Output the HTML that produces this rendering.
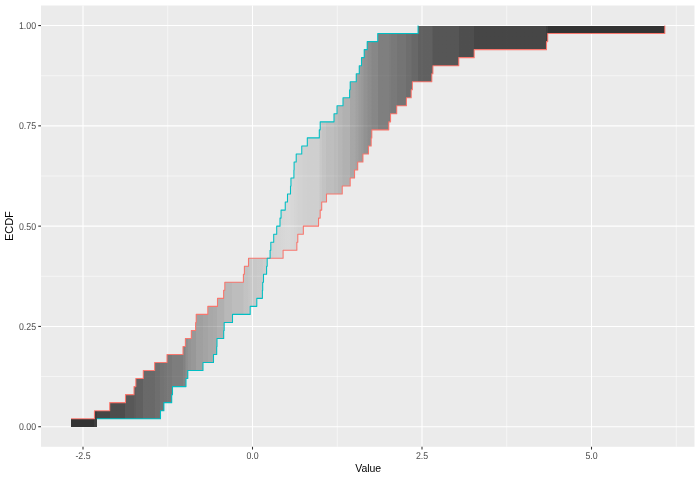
<!DOCTYPE html>
<html><head><meta charset="utf-8"><title>ECDF</title>
<style>html,body{margin:0;padding:0;background:#fff}svg{display:block}text{font-family:"Liberation Sans",sans-serif}</style>
</head><body>
<svg width="700" height="480" viewBox="0 0 700 480">
<defs><linearGradient id="g" gradientUnits="userSpaceOnUse" x1="71" y1="0" x2="665" y2="0"><stop offset="0.00000" stop-color="#333" stop-opacity="1.000"/><stop offset="0.03872" stop-color="#333" stop-opacity="1.000"/><stop offset="0.03872" stop-color="#333" stop-opacity="0.946"/><stop offset="0.04377" stop-color="#333" stop-opacity="0.946"/><stop offset="0.04377" stop-color="#333" stop-opacity="0.897"/><stop offset="0.06566" stop-color="#333" stop-opacity="0.897"/><stop offset="0.06566" stop-color="#333" stop-opacity="0.859"/><stop offset="0.09091" stop-color="#333" stop-opacity="0.859"/><stop offset="0.09091" stop-color="#333" stop-opacity="0.799"/><stop offset="0.10606" stop-color="#333" stop-opacity="0.799"/><stop offset="0.10606" stop-color="#333" stop-opacity="0.777"/><stop offset="0.10943" stop-color="#333" stop-opacity="0.777"/><stop offset="0.10943" stop-color="#333" stop-opacity="0.755"/><stop offset="0.12121" stop-color="#333" stop-opacity="0.755"/><stop offset="0.12121" stop-color="#333" stop-opacity="0.707"/><stop offset="0.14141" stop-color="#333" stop-opacity="0.707"/><stop offset="0.14141" stop-color="#333" stop-opacity="0.679"/><stop offset="0.14983" stop-color="#333" stop-opacity="0.679"/><stop offset="0.14983" stop-color="#333" stop-opacity="0.652"/><stop offset="0.15657" stop-color="#333" stop-opacity="0.652"/><stop offset="0.15657" stop-color="#333" stop-opacity="0.639"/><stop offset="0.16162" stop-color="#333" stop-opacity="0.639"/><stop offset="0.16162" stop-color="#333" stop-opacity="0.625"/><stop offset="0.17003" stop-color="#333" stop-opacity="0.625"/><stop offset="0.17003" stop-color="#333" stop-opacity="0.598"/><stop offset="0.18855" stop-color="#333" stop-opacity="0.598"/><stop offset="0.18855" stop-color="#333" stop-opacity="0.567"/><stop offset="0.19192" stop-color="#333" stop-opacity="0.567"/><stop offset="0.19192" stop-color="#333" stop-opacity="0.535"/><stop offset="0.19360" stop-color="#333" stop-opacity="0.535"/><stop offset="0.19360" stop-color="#333" stop-opacity="0.504"/><stop offset="0.19697" stop-color="#333" stop-opacity="0.504"/><stop offset="0.19697" stop-color="#333" stop-opacity="0.473"/><stop offset="0.20202" stop-color="#333" stop-opacity="0.473"/><stop offset="0.20202" stop-color="#333" stop-opacity="0.451"/><stop offset="0.21044" stop-color="#333" stop-opacity="0.451"/><stop offset="0.21044" stop-color="#333" stop-opacity="0.408"/><stop offset="0.22222" stop-color="#333" stop-opacity="0.408"/><stop offset="0.22222" stop-color="#333" stop-opacity="0.386"/><stop offset="0.23064" stop-color="#333" stop-opacity="0.386"/><stop offset="0.23064" stop-color="#333" stop-opacity="0.364"/><stop offset="0.23906" stop-color="#333" stop-opacity="0.364"/><stop offset="0.23906" stop-color="#333" stop-opacity="0.353"/><stop offset="0.24579" stop-color="#333" stop-opacity="0.353"/><stop offset="0.24579" stop-color="#333" stop-opacity="0.321"/><stop offset="0.25758" stop-color="#333" stop-opacity="0.321"/><stop offset="0.25758" stop-color="#333" stop-opacity="0.288"/><stop offset="0.25926" stop-color="#333" stop-opacity="0.288"/><stop offset="0.25926" stop-color="#333" stop-opacity="0.277"/><stop offset="0.27104" stop-color="#333" stop-opacity="0.277"/><stop offset="0.27104" stop-color="#333" stop-opacity="0.250"/><stop offset="0.28956" stop-color="#333" stop-opacity="0.250"/><stop offset="0.28956" stop-color="#333" stop-opacity="0.235"/><stop offset="0.29125" stop-color="#333" stop-opacity="0.235"/><stop offset="0.29125" stop-color="#333" stop-opacity="0.220"/><stop offset="0.29798" stop-color="#333" stop-opacity="0.220"/><stop offset="0.29798" stop-color="#333" stop-opacity="0.205"/><stop offset="0.30135" stop-color="#333" stop-opacity="0.205"/><stop offset="0.30135" stop-color="#333" stop-opacity="0.190"/><stop offset="0.31313" stop-color="#333" stop-opacity="0.190"/><stop offset="0.31313" stop-color="#333" stop-opacity="0.183"/><stop offset="0.32155" stop-color="#333" stop-opacity="0.183"/><stop offset="0.32155" stop-color="#333" stop-opacity="0.176"/><stop offset="0.32323" stop-color="#333" stop-opacity="0.176"/><stop offset="0.32323" stop-color="#333" stop-opacity="0.161"/><stop offset="0.32997" stop-color="#333" stop-opacity="0.161"/><stop offset="0.32997" stop-color="#333" stop-opacity="0.147"/><stop offset="0.33502" stop-color="#333" stop-opacity="0.147"/><stop offset="0.33502" stop-color="#333" stop-opacity="0.139"/><stop offset="0.33670" stop-color="#333" stop-opacity="0.139"/><stop offset="0.33670" stop-color="#333" stop-opacity="0.132"/><stop offset="0.34175" stop-color="#333" stop-opacity="0.132"/><stop offset="0.34175" stop-color="#333" stop-opacity="0.125"/><stop offset="0.34680" stop-color="#333" stop-opacity="0.125"/><stop offset="0.34680" stop-color="#333" stop-opacity="0.120"/><stop offset="0.35185" stop-color="#333" stop-opacity="0.120"/><stop offset="0.35185" stop-color="#333" stop-opacity="0.116"/><stop offset="0.35354" stop-color="#333" stop-opacity="0.116"/><stop offset="0.35354" stop-color="#333" stop-opacity="0.111"/><stop offset="0.35690" stop-color="#333" stop-opacity="0.111"/><stop offset="0.35690" stop-color="#333" stop-opacity="0.107"/><stop offset="0.36027" stop-color="#333" stop-opacity="0.107"/><stop offset="0.36027" stop-color="#333" stop-opacity="0.102"/><stop offset="0.36364" stop-color="#333" stop-opacity="0.102"/><stop offset="0.36364" stop-color="#333" stop-opacity="0.100"/><stop offset="0.36869" stop-color="#333" stop-opacity="0.100"/><stop offset="0.36869" stop-color="#333" stop-opacity="0.103"/><stop offset="0.37037" stop-color="#333" stop-opacity="0.103"/><stop offset="0.37037" stop-color="#333" stop-opacity="0.109"/><stop offset="0.37542" stop-color="#333" stop-opacity="0.109"/><stop offset="0.37542" stop-color="#333" stop-opacity="0.120"/><stop offset="0.37879" stop-color="#333" stop-opacity="0.120"/><stop offset="0.37879" stop-color="#333" stop-opacity="0.125"/><stop offset="0.38047" stop-color="#333" stop-opacity="0.125"/><stop offset="0.38047" stop-color="#333" stop-opacity="0.130"/><stop offset="0.38215" stop-color="#333" stop-opacity="0.130"/><stop offset="0.38215" stop-color="#333" stop-opacity="0.136"/><stop offset="0.38889" stop-color="#333" stop-opacity="0.136"/><stop offset="0.38889" stop-color="#333" stop-opacity="0.141"/><stop offset="0.39057" stop-color="#333" stop-opacity="0.141"/><stop offset="0.39057" stop-color="#333" stop-opacity="0.147"/><stop offset="0.39731" stop-color="#333" stop-opacity="0.147"/><stop offset="0.39731" stop-color="#333" stop-opacity="0.152"/><stop offset="0.41751" stop-color="#333" stop-opacity="0.152"/><stop offset="0.41751" stop-color="#333" stop-opacity="0.171"/><stop offset="0.41919" stop-color="#333" stop-opacity="0.171"/><stop offset="0.41919" stop-color="#333" stop-opacity="0.190"/><stop offset="0.42256" stop-color="#333" stop-opacity="0.190"/><stop offset="0.42256" stop-color="#333" stop-opacity="0.217"/><stop offset="0.42929" stop-color="#333" stop-opacity="0.217"/><stop offset="0.42929" stop-color="#333" stop-opacity="0.245"/><stop offset="0.44276" stop-color="#333" stop-opacity="0.245"/><stop offset="0.44276" stop-color="#333" stop-opacity="0.266"/><stop offset="0.44781" stop-color="#333" stop-opacity="0.266"/><stop offset="0.44781" stop-color="#333" stop-opacity="0.288"/><stop offset="0.45623" stop-color="#333" stop-opacity="0.288"/><stop offset="0.45623" stop-color="#333" stop-opacity="0.302"/><stop offset="0.45791" stop-color="#333" stop-opacity="0.302"/><stop offset="0.45791" stop-color="#333" stop-opacity="0.315"/><stop offset="0.46970" stop-color="#333" stop-opacity="0.315"/><stop offset="0.46970" stop-color="#333" stop-opacity="0.370"/><stop offset="0.47811" stop-color="#333" stop-opacity="0.370"/><stop offset="0.47811" stop-color="#333" stop-opacity="0.385"/><stop offset="0.47980" stop-color="#333" stop-opacity="0.385"/><stop offset="0.47980" stop-color="#333" stop-opacity="0.399"/><stop offset="0.48316" stop-color="#333" stop-opacity="0.399"/><stop offset="0.48316" stop-color="#333" stop-opacity="0.414"/><stop offset="0.48485" stop-color="#333" stop-opacity="0.414"/><stop offset="0.48485" stop-color="#333" stop-opacity="0.429"/><stop offset="0.48822" stop-color="#333" stop-opacity="0.429"/><stop offset="0.48822" stop-color="#333" stop-opacity="0.447"/><stop offset="0.49158" stop-color="#333" stop-opacity="0.447"/><stop offset="0.49158" stop-color="#333" stop-opacity="0.466"/><stop offset="0.49327" stop-color="#333" stop-opacity="0.466"/><stop offset="0.49327" stop-color="#333" stop-opacity="0.484"/><stop offset="0.49832" stop-color="#333" stop-opacity="0.484"/><stop offset="0.49832" stop-color="#333" stop-opacity="0.499"/><stop offset="0.50000" stop-color="#333" stop-opacity="0.499"/><stop offset="0.50000" stop-color="#333" stop-opacity="0.514"/><stop offset="0.50505" stop-color="#333" stop-opacity="0.514"/><stop offset="0.50505" stop-color="#333" stop-opacity="0.529"/><stop offset="0.50673" stop-color="#333" stop-opacity="0.529"/><stop offset="0.50673" stop-color="#333" stop-opacity="0.543"/><stop offset="0.51684" stop-color="#333" stop-opacity="0.543"/><stop offset="0.51684" stop-color="#333" stop-opacity="0.587"/><stop offset="0.53535" stop-color="#333" stop-opacity="0.587"/><stop offset="0.53535" stop-color="#333" stop-opacity="0.603"/><stop offset="0.53872" stop-color="#333" stop-opacity="0.603"/><stop offset="0.53872" stop-color="#333" stop-opacity="0.620"/><stop offset="0.54882" stop-color="#333" stop-opacity="0.620"/><stop offset="0.54882" stop-color="#333" stop-opacity="0.647"/><stop offset="0.56397" stop-color="#333" stop-opacity="0.647"/><stop offset="0.56397" stop-color="#333" stop-opacity="0.679"/><stop offset="0.57239" stop-color="#333" stop-opacity="0.679"/><stop offset="0.57239" stop-color="#333" stop-opacity="0.696"/><stop offset="0.57407" stop-color="#333" stop-opacity="0.696"/><stop offset="0.57407" stop-color="#333" stop-opacity="0.712"/><stop offset="0.58418" stop-color="#333" stop-opacity="0.712"/><stop offset="0.58418" stop-color="#333" stop-opacity="0.755"/><stop offset="0.60774" stop-color="#333" stop-opacity="0.755"/><stop offset="0.60774" stop-color="#333" stop-opacity="0.783"/><stop offset="0.60943" stop-color="#333" stop-opacity="0.783"/><stop offset="0.60943" stop-color="#333" stop-opacity="0.810"/><stop offset="0.65320" stop-color="#333" stop-opacity="0.810"/><stop offset="0.65320" stop-color="#333" stop-opacity="0.853"/><stop offset="0.67845" stop-color="#333" stop-opacity="0.853"/><stop offset="0.67845" stop-color="#333" stop-opacity="0.897"/><stop offset="0.79966" stop-color="#333" stop-opacity="0.897"/><stop offset="0.79966" stop-color="#333" stop-opacity="0.948"/><stop offset="0.80303" stop-color="#333" stop-opacity="0.948"/><stop offset="0.80303" stop-color="#333" stop-opacity="1.000"/><stop offset="1.00000" stop-color="#333" stop-opacity="1.000"/></linearGradient></defs>
<rect width="700" height="480" fill="#fff"/>
<rect x="41.0" y="5.5" width="653.50" height="441.30" fill="#EBEBEB"/>
<g><line x1="41.0" x2="694.5" y1="376.58" y2="376.58" stroke="#fff" stroke-width="0.53"/><line x1="41.0" x2="694.5" y1="276.29" y2="276.29" stroke="#fff" stroke-width="0.53"/><line x1="41.0" x2="694.5" y1="176.00" y2="176.00" stroke="#fff" stroke-width="0.53"/><line x1="41.0" x2="694.5" y1="75.70" y2="75.70" stroke="#fff" stroke-width="0.53"/><line y1="5.5" y2="446.8" x1="167.75" x2="167.75" stroke="#fff" stroke-width="0.53"/><line y1="5.5" y2="446.8" x1="337.25" x2="337.25" stroke="#fff" stroke-width="0.53"/><line y1="5.5" y2="446.8" x1="506.75" x2="506.75" stroke="#fff" stroke-width="0.53"/><line y1="5.5" y2="446.8" x1="676.25" x2="676.25" stroke="#fff" stroke-width="0.53"/><line x1="41.0" x2="694.5" y1="426.72" y2="426.72" stroke="#fff" stroke-width="1.07"/><line x1="41.0" x2="694.5" y1="326.43" y2="326.43" stroke="#fff" stroke-width="1.07"/><line x1="41.0" x2="694.5" y1="226.14" y2="226.14" stroke="#fff" stroke-width="1.07"/><line x1="41.0" x2="694.5" y1="125.85" y2="125.85" stroke="#fff" stroke-width="1.07"/><line x1="41.0" x2="694.5" y1="25.56" y2="25.56" stroke="#fff" stroke-width="1.07"/><line y1="5.5" y2="446.8" x1="83.00" x2="83.00" stroke="#fff" stroke-width="1.07"/><line y1="5.5" y2="446.8" x1="252.50" x2="252.50" stroke="#fff" stroke-width="1.07"/><line y1="5.5" y2="446.8" x1="422.00" x2="422.00" stroke="#fff" stroke-width="1.07"/><line y1="5.5" y2="446.8" x1="591.50" x2="591.50" stroke="#fff" stroke-width="1.07"/></g>
<path d="M71,419 L94,419 L94,411 L97,411 L110,411 L110,403 L125,403 L125,395 L134,395 L134,387 L136,387 L136,379 L143,379 L143,371 L155,371 L155,363 L160,363 L164,363 L167,363 L167,355 L172,355 L183,355 L183,346 L185,346 L185,338 L186,338 L188,338 L191,338 L191,330 L196,330 L196,322 L196,314 L203,314 L208,314 L208,306 L213,306 L217,306 L217,298 L224,298 L224,290 L225,290 L225,282 L232,282 L243,282 L243,274 L244,274 L244,266 L248,266 L248,258 L250,258 L257,258 L262,258 L263,258 L267,258 L270,258 L270,250 L271,250 L271,242 L274,242 L274,234 L277,234 L277,226 L280,226 L280,218 L281,218 L281,210 L283,210 L285,210 L285,202 L287,202 L287,194 L290,194 L290,186 L291,186 L291,178 L294,178 L294,170 L294,162 L296,162 L296,154 L297,154 L298,154 L302,154 L302,146 L303,146 L307,146 L307,138 L319,138 L319,130 L320,130 L320,122 L322,122 L326,122 L334,122 L334,114 L337,114 L337,106 L342,106 L343,106 L343,98 L350,98 L350,90 L350,82 L355,82 L356,82 L356,74 L358,74 L359,74 L359,66 L361,66 L361,58 L363,58 L364,58 L364,50 L367,50 L367,42 L368,42 L371,42 L372,42 L378,42 L378,34 L389,34 L391,34 L397,34 L406,34 L411,34 L412,34 L418,34 L418,26 L432,26 L433,26 L459,26 L474,26 L546,26 L548,26 L665,26 L665,34 L548,34 L548,42 L546,42 L546,50 L474,50 L474,58 L459,58 L459,66 L433,66 L433,74 L432,74 L432,82 L418,82 L412,82 L412,90 L411,90 L411,98 L406,98 L406,106 L397,106 L397,114 L391,114 L391,122 L389,122 L389,130 L378,130 L372,130 L372,138 L371,138 L371,146 L368,146 L368,154 L367,154 L364,154 L363,154 L363,162 L361,162 L359,162 L358,162 L358,170 L356,170 L355,170 L355,178 L350,178 L350,186 L343,186 L342,186 L342,194 L337,194 L334,194 L326,194 L326,202 L322,202 L322,210 L320,210 L320,218 L319,218 L319,226 L307,226 L303,226 L303,234 L302,234 L298,234 L298,242 L297,242 L297,250 L296,250 L294,250 L291,250 L290,250 L287,250 L285,250 L283,250 L283,258 L281,258 L280,258 L277,258 L274,258 L271,258 L270,258 L267,258 L267,266 L267,274 L263,274 L263,282 L263,290 L262,290 L262,298 L257,298 L257,306 L250,306 L250,314 L248,314 L244,314 L243,314 L232,314 L232,322 L225,322 L224,322 L224,330 L224,338 L217,338 L217,346 L217,355 L213,355 L213,363 L208,363 L203,363 L203,371 L196,371 L191,371 L188,371 L188,379 L186,379 L186,387 L185,387 L183,387 L172,387 L172,395 L172,403 L167,403 L164,403 L164,411 L160,411 L160,419 L155,419 L143,419 L136,419 L134,419 L125,419 L110,419 L97,419 L97,427 L94,427 L71,427Z" fill="url(#g)"/>
<path d="M71.00,418.70H94.45V410.67H109.70V402.65H125.50V394.63H134.00V386.60H135.80V378.58H143.30V370.56H154.60V362.53H167.00V354.51H183.00V346.49H185.40V338.46H191.30V330.44H195.60V322.42H196.20V314.40H207.80V306.37H217.50V298.35H223.60V290.33H224.80V282.30H243.40V274.28H244.40V266.26H248.50V258.23H283.10V250.21H296.85V242.19H297.80V234.16H303.35V226.14H318.55V218.12H320.20V210.09H321.70V202.07H326.50V194.05H342.25V186.02H350.20V178.00H354.55V169.98H357.70V161.95H362.95V153.93H368.50V145.91H371.20V137.88H371.80V129.86H388.75V121.84H390.55V113.82H396.70V105.79H406.45V97.77H411.25V89.75H412.40V81.72H431.80V73.70H432.90V65.68H458.75V57.65H474.20V49.63H546.50V41.61H547.70V33.58H664.80V25.56" fill="none" stroke="#F8766D" stroke-width="1.07" stroke-linejoin="round"/>
<path d="M96.75,418.70H160.50V410.67H163.90V402.65H171.70V394.63H172.50V386.60H186.00V378.58H187.80V370.56H203.00V362.53H213.50V354.51H216.70V346.49H217.00V338.46H223.70V330.44H224.20V322.42H232.50V314.40H250.20V306.37H256.80V298.35H262.40V290.33H262.70V282.30H263.50V274.28H266.60V266.26H267.20V258.23H270.10V250.21H270.80V242.19H273.70V234.16H276.70V226.14H280.00V218.12H281.05V210.09H285.25V202.07H287.50V194.05H290.50V186.02H290.95V178.00H293.90V169.98H294.10V161.95H296.20V153.93H301.75V145.91H307.30V137.88H319.30V129.86H320.20V121.84H334.00V113.82H337.00V105.79H343.00V97.77H349.60V89.75H350.20V81.72H356.25V73.70H359.25V65.68H361.50V57.65H364.20V49.63H367.20V41.61H377.70V33.58H418.05V25.56" fill="none" stroke="#00BFC4" stroke-width="1.07" stroke-linejoin="round"/>
<g><line x1="38.25" x2="41.0" y1="426.72" y2="426.72" stroke="#333" stroke-width="1.07"/><line x1="38.25" x2="41.0" y1="326.43" y2="326.43" stroke="#333" stroke-width="1.07"/><line x1="38.25" x2="41.0" y1="226.14" y2="226.14" stroke="#333" stroke-width="1.07"/><line x1="38.25" x2="41.0" y1="125.85" y2="125.85" stroke="#333" stroke-width="1.07"/><line x1="38.25" x2="41.0" y1="25.56" y2="25.56" stroke="#333" stroke-width="1.07"/><line y1="446.8" y2="449.55" x1="83.00" x2="83.00" stroke="#333" stroke-width="1.07"/><line y1="446.8" y2="449.55" x1="252.50" x2="252.50" stroke="#333" stroke-width="1.07"/><line y1="446.8" y2="449.55" x1="422.00" x2="422.00" stroke="#333" stroke-width="1.07"/><line y1="446.8" y2="449.55" x1="591.50" x2="591.50" stroke="#333" stroke-width="1.07"/></g>
<g font-size="8.8" fill="#4D4D4D" text-rendering="geometricPrecision"><text transform="translate(36.05,430.12) scale(1,1.12)" text-anchor="end">0.00</text><text transform="translate(36.05,329.83) scale(1,1.12)" text-anchor="end">0.25</text><text transform="translate(36.05,229.54) scale(1,1.12)" text-anchor="end">0.50</text><text transform="translate(36.05,129.25) scale(1,1.12)" text-anchor="end">0.75</text><text transform="translate(36.05,28.96) scale(1,1.12)" text-anchor="end">1.00</text><text transform="translate(83.00,459.05) scale(1,1.12)" text-anchor="middle">-2.5</text><text transform="translate(252.50,459.05) scale(1,1.12)" text-anchor="middle">0.0</text><text transform="translate(422.00,459.05) scale(1,1.12)" text-anchor="middle">2.5</text><text transform="translate(591.50,459.05) scale(1,1.12)" text-anchor="middle">5.0</text></g>
<text x="368.2" y="472" font-size="11" fill="#000" text-anchor="middle" textLength="26.0" lengthAdjust="spacingAndGlyphs">Value</text>
<text transform="translate(13.4,226.15) rotate(-90)" font-size="11" fill="#000" text-anchor="middle">ECDF</text>
</svg>
</body></html>
